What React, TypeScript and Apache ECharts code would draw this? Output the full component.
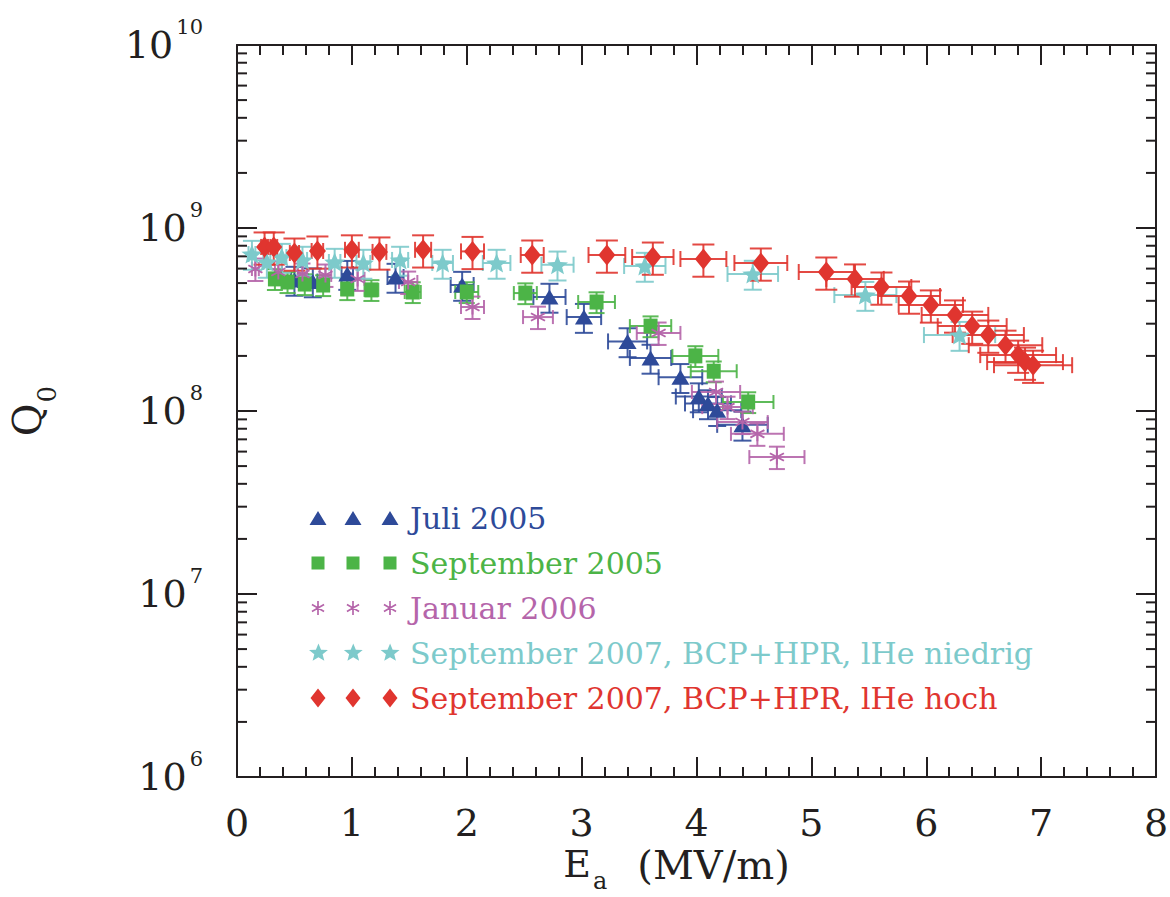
import React, { useEffect, useRef } from "react";
import * as echarts from "echarts";

// ---------- data ----------
const SERIES_NAMES = [
  "Juli 2005",
  "September 2005",
  "Januar 2006",
  "September 2007, BCP+HPR, lHe niedrig",
  "September 2007, BCP+HPR, lHe hoch",
];

const juliE = [0.5, 0.66, 0.96, 1.38, 1.96, 2.72, 3.02, 3.4, 3.6, 3.86, 4.02, 4.1, 4.18, 4.4];
const juliQ = [5.2e8, 5.1e8, 5.6e8, 5.4e8, 4.88e8, 4.2e8, 3.26e8, 2.4e8, 1.95e8, 1.53e8, 1.2e8, 1.1e8, 1.01e8, 8.4e7];
const juliEErr = [0.03, 0.04, 0.05, 0.07, 0.1, 0.14, 0.15, 0.17, 0.18, 0.19, 0.2, 0.2, 0.21, 0.22];

const sep05E = [0.33, 0.44, 0.59, 0.75, 0.96, 1.17, 1.53, 2.0, 2.51, 3.13, 3.6, 3.99, 4.15, 4.45];
const sep05Q = [5.27e8, 5.07e8, 4.94e8, 4.88e8, 4.64e8, 4.59e8, 4.47e8, 4.47e8, 4.41e8, 3.94e8, 2.91e8, 2.0e8, 1.65e8, 1.12e8];
const sep05EErr = [0.03, 0.03, 0.04, 0.04, 0.05, 0.06, 0.07, 0.1, 0.1, 0.16, 0.18, 0.2, 0.2, 0.22];

const jan06E = [0.16, 0.36, 0.57, 0.77, 1.05, 1.49, 2.05, 2.62, 3.67, 4.17, 4.27, 4.4, 4.53, 4.7];
const jan06Q = [5.97e8, 5.75e8, 5.61e8, 5.54e8, 5.27e8, 5.07e8, 3.7e8, 3.26e8, 2.67e8, 1.27e8, 1.05e8, 8.7e7, 7.5e7, 5.6e7];
const jan06EErr = [0.03, 0.03, 0.04, 0.05, 0.06, 0.08, 0.1, 0.13, 0.19, 0.21, 0.22, 0.22, 0.23, 0.24];

const sep07lowE = [0.13, 0.26, 0.39, 0.57, 0.85, 1.1, 1.42, 1.79, 2.26, 2.79, 3.55, 4.49, 5.47, 6.29];
const sep07lowQ = [7.21e8, 6.52e8, 6.94e8, 6.69e8, 6.52e8, 6.44e8, 6.69e8, 6.44e8, 6.44e8, 6.3e8, 6.2e8, 5.61e8, 4.3e8, 2.6e8];
const sep07lowEErr = [0.03, 0.03, 0.04, 0.04, 0.05, 0.06, 0.07, 0.09, 0.12, 0.14, 0.18, 0.22, 0.27, 0.31];

const sep07highE = [0.24, 0.32, 0.5, 0.7, 1.0, 1.24, 1.62, 2.05, 2.57, 3.22, 3.62, 4.06, 4.56, 5.13, 5.38, 5.61, 5.85, 6.04, 6.25, 6.4, 6.54, 6.69, 6.8, 6.86, 6.93];
const sep07highQ = [7.88e8, 7.88e8, 7.3e8, 7.49e8, 7.6e8, 7.4e8, 7.6e8, 7.45e8, 7.12e8, 7.12e8, 6.94e8, 6.77e8, 6.44e8, 5.75e8, 5.27e8, 4.76e8, 4.25e8, 3.8e8, 3.35e8, 2.91e8, 2.6e8, 2.29e8, 2.02e8, 1.85e8, 1.78e8];
const sep07highEErr = [0.03, 0.03, 0.04, 0.05, 0.06, 0.06, 0.07, 0.1, 0.1, 0.16, 0.18, 0.2, 0.23, 0.24, 0.25, 0.26, 0.27, 0.28, 0.29, 0.3, 0.31, 0.32, 0.33, 0.33, 0.34];

// relative vertical error of Q0 per series
const Q_REL_ERR = [0.18, 0.13, 0.14, 0.18, 0.2];

// axes
const X_MIN = 0;
const X_MAX = 8;
const X_STEP = 1;
const Q_MIN = 1e6;
const Q_MAX = 1e10;
const Q_MINOR_MULT = [2, 3, 4, 5, 6, 7, 8, 9];
const Q_MINOR_DECADES = [6, 7, 8, 9];

// ---------- styles ----------
const AXIS_COLOR = "#231f20";
const FONT = "DejaVu Serif";
const COLORS = ["#2e4a99", "#4cb447", "#b565aa", "#7dcacb", "#e0352f"];

type Poly = number[][];
const TRIANGLE: Poly[] = [[[0, 100], [50, 0], [100, 100]]];
const SQUARE: Poly[] = [[[0, 0], [100, 0], [100, 100], [0, 100]]];
const DIAMOND: Poly[] = [[[50, 0], [100, 50], [50, 100], [0, 50]]];
const STAR: Poly[] = [[
  [50, 0], [62.93, 32.2], [97.55, 34.55], [70.92, 56.8], [79.39, 90.45],
  [50, 72], [20.61, 90.45], [29.08, 56.8], [2.45, 34.55], [37.07, 32.2],
]];
const ASTERISK: Poly[] = [
  [[44, 0], [56, 0], [56, 100], [44, 100]],
  [[3.7, 30.2], [9.7, 19.8], [96.3, 69.8], [90.3, 80.2]],
  [[9.7, 80.2], [3.7, 69.8], [90.3, 19.8], [96.3, 30.2]],
];

function polysToPath(polys: Poly[], cx: number, cy: number, w: number, h: number): string {
  return polys
    .map(
      (p) =>
        p
          .map(
            ([x, y], i) =>
              `${i ? "L" : "M"}${(cx + ((x - 50) / 100) * w).toFixed(2)},${(cy + ((y - 50) / 100) * h).toFixed(2)}`
          )
          .join(" ") + " Z"
    )
    .join(" ");
}

const SHAPES = [TRIANGLE, SQUARE, ASTERISK, STAR, DIAMOND];
const MARK_SIZES = [[18, 15], [14, 15], [15, 15], [21, 19], [17, 21]];
const LEGEND_SIZES = [[17, 14], [13, 13], [14, 14], [20, 19], [15, 19]];
const CAP_V = [9, 8, 8, 9, 11];
const CAP_H = [8, 7, 7, 8, 8];

const LEG_W = 96;
const LEG_H = 20;
const LEG_CX = [9, 44, 81];

const DATA_E = [juliE, sep05E, jan06E, sep07lowE, sep07highE];
const DATA_Q = [juliQ, sep05Q, jan06Q, sep07lowQ, sep07highQ];
const DATA_EERR = [juliEErr, sep05EErr, jan06EErr, sep07lowEErr, sep07highEErr];

function errorRenderer(color: string, rel: number, capV: number, capH: number) {
  return (_params: any, api: any) => {
    const x = api.value(0);
    const y = api.value(1);
    const xe = api.value(2);
    const l = api.coord([x - xe, y]);
    const r = api.coord([x + xe, y]);
    const t = api.coord([x, y * (1 + rel)]);
    const b = api.coord([x, y * (1 - rel)]);
    const st = { stroke: color, lineWidth: 2, opacity: 0.9 };
    const ln = (x1: number, y1: number, x2: number, y2: number) => ({
      type: "line",
      shape: { x1, y1, x2, y2 },
      style: st,
    });
    return {
      type: "group",
      children: [
        ln(l[0], l[1], r[0], r[1]),
        ln(t[0], t[1], b[0], b[1]),
        ln(l[0], l[1] - capH, l[0], l[1] + capH),
        ln(r[0], r[1] - capH, r[0], r[1] + capH),
        ln(t[0] - capV, t[1], t[0] + capV, t[1]),
        ln(b[0] - capV, b[1], b[0] + capV, b[1]),
      ],
    };
  };
}

function minorTickRenderer(params: any, api: any) {
  const p = api.coord([X_MIN, api.value(1)]);
  const cs = params.coordSys;
  const st = { stroke: AXIS_COLOR, lineWidth: 2 };
  return {
    type: "group",
    children: [
      { type: "line", shape: { x1: cs.x, y1: p[1], x2: cs.x + 10, y2: p[1] }, style: st },
      { type: "line", shape: { x1: cs.x + cs.width - 10, y1: p[1], x2: cs.x + cs.width, y2: p[1] }, style: st },
    ],
  };
}

function buildOption() {
  const series: any[] = [];
  SERIES_NAMES.forEach((name, k) => {
    const xs = DATA_E[k];
    series.push({
      type: "custom",
      silent: true,
      clip: false,
      renderItem: errorRenderer(COLORS[k], Q_REL_ERR[k], CAP_V[k], CAP_H[k]),
      encode: { x: 0, y: 1 },
      data: xs.map((x, i) => [x, DATA_Q[k][i], DATA_EERR[k][i]]),
    });
    series.push({
      type: "scatter",
      name,
      silent: true,
      symbol: "path://" + polysToPath(SHAPES[k], 50, 50, 100, 100),
      symbolSize: MARK_SIZES[k],
      itemStyle: { color: COLORS[k], opacity: 1 },
      data: xs.map((x, i) => [x, DATA_Q[k][i]]),
    });
  });

  const minorVals: number[][] = [];
  Q_MINOR_DECADES.forEach((d) => Q_MINOR_MULT.forEach((m) => minorVals.push([X_MIN, m * Math.pow(10, d)])));
  series.push({
    type: "custom",
    silent: true,
    clip: false,
    renderItem: minorTickRenderer,
    encode: { x: 0, y: 1 },
    data: minorVals,
  });

  const axisLine = { show: true, onZero: false, lineStyle: { color: AXIS_COLOR, width: 2 } };
  const majorTick = { show: true, inside: true, length: 20, lineStyle: { color: AXIS_COLOR, width: 2 } };
  const minorTickX = { show: true, splitNumber: 5, length: 10, lineStyle: { color: AXIS_COLOR, width: 2 } };

  const legendData = SERIES_NAMES.map((name, k) => {
    const [w, h] = LEGEND_SIZES[k];
    const icon =
      `path://M0,0 M${LEG_W},${LEG_H} ` +
      LEG_CX.map((cx) => polysToPath(SHAPES[k], cx, LEG_H / 2, w, h)).join(" ");
    return { name, icon, textStyle: { color: COLORS[k] } };
  });

  return {
    animation: false,
    backgroundColor: "#ffffff",
    grid: { left: 237, right: 14, top: 45, bottom: 120, containLabel: false, outerBoundsMode: "none" },
    legend: {
      orient: "vertical",
      left: 309,
      top: 503,
      padding: 0,
      itemGap: 15,
      itemWidth: LEG_W,
      itemHeight: LEG_H,
      selectedMode: false,
      textStyle: { fontFamily: FONT, fontSize: 30, lineHeight: 24 },
      data: legendData,
    },
    xAxis: [
      {
        type: "value",
        position: "bottom",
        min: X_MIN,
        max: X_MAX,
        interval: X_STEP,
        axisLine,
        axisTick: majorTick,
        minorTick: minorTickX,
        splitLine: { show: false },
        minorSplitLine: { show: false },
        axisLabel: { margin: 27, fontFamily: FONT, fontSize: 38, color: AXIS_COLOR },
        name: "{e|E}{s|a}{m|(MV/m)}",
        nameLocation: "middle",
        nameGap: 68,
        nameMoveOverlap: false,
        nameTextStyle: {
          color: AXIS_COLOR,
          rich: {
            e: { fontFamily: FONT, fontSize: 38, color: AXIS_COLOR, height: 38, lineHeight: 38, verticalAlign: "top" },
            s: { fontFamily: FONT, fontSize: 24, color: AXIS_COLOR, height: 24, verticalAlign: "top", padding: [24, 0, 0, 2] },
            m: { fontFamily: FONT, fontSize: 40, color: AXIS_COLOR, height: 40, lineHeight: 40, verticalAlign: "top", padding: [0, 40, 0, 30] },
          },
        },
      },
      {
        type: "value",
        position: "top",
        min: X_MIN,
        max: X_MAX,
        interval: X_STEP,
        axisLine,
        axisTick: majorTick,
        minorTick: minorTickX,
        splitLine: { show: false },
        minorSplitLine: { show: false },
        axisLabel: { show: false },
      },
    ],
    yAxis: [
      {
        type: "log",
        logBase: 10,
        position: "left",
        min: Q_MIN,
        max: Q_MAX,
        splitNumber: 4,
        axisLine,
        axisTick: majorTick,
        minorTick: { show: false },
        splitLine: { show: false },
        axisLabel: {
          margin: 34,
          formatter: (v: number) => `{b|10}{s|${Math.round(Math.log10(v))}}`,
          rich: {
            b: { fontFamily: FONT, fontSize: 38, color: AXIS_COLOR, height: 38, lineHeight: 38, verticalAlign: "middle" },
            s: { fontFamily: FONT, fontSize: 21, color: AXIS_COLOR, height: 21, verticalAlign: "top", padding: [0, 0, 36, 3] },
          },
        },
        name: "{q|Q}{s|0}",
        nameLocation: "middle",
        nameRotate: 90,
        nameGap: 177,
        nameMoveOverlap: false,
        nameTextStyle: {
          color: AXIS_COLOR,
          rich: {
            q: { fontFamily: FONT, fontSize: 40, color: AXIS_COLOR, height: 40, lineHeight: 40, verticalAlign: "top" },
            s: { fontFamily: FONT, fontSize: 26, color: AXIS_COLOR, height: 26, verticalAlign: "bottom", padding: [27, 0, 0, 1] },
          },
        },
      },
      {
        type: "log",
        logBase: 10,
        position: "right",
        min: Q_MIN,
        max: Q_MAX,
        splitNumber: 4,
        axisLine,
        axisTick: majorTick,
        minorTick: { show: false },
        splitLine: { show: false },
        axisLabel: { show: false },
      },
    ],
    series,
  };
}

export default function App() {
  const ref = useRef<HTMLDivElement>(null);
  useEffect(() => {
    if (!ref.current) return;
    const chart = echarts.init(ref.current, undefined, { renderer: "svg" });
    chart.setOption(buildOption() as any);
    return () => chart.dispose();
  }, []);
  return (
    <div
      ref={ref}
      style={{ position: "fixed", left: 0, top: 0, width: 1170, height: 897, background: "#ffffff" }}
    />
  );
}
